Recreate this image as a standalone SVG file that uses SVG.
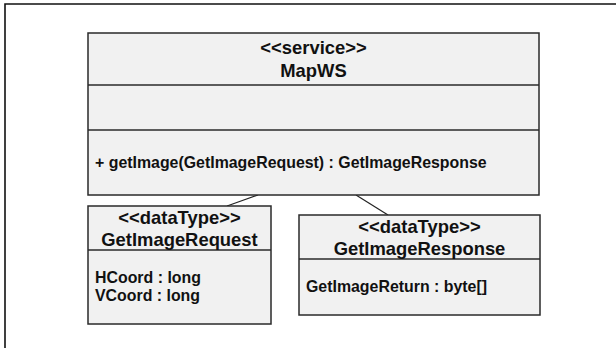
<svg xmlns="http://www.w3.org/2000/svg" width="616" height="348" viewBox="0 0 616 348">
<style>
.box{fill:#f1f1f1;stroke:#2a2a2a;stroke-width:1.5}
.div{stroke:#2a2a2a;stroke-width:1.5}
.frame{stroke:#111;stroke-width:1.6;fill:none}
.conn{stroke:#222;stroke-width:1.2;fill:none}
.h{font-family:"Liberation Sans",Arial,Helvetica,sans-serif;font-weight:bold;font-size:18.4px;fill:#111;text-anchor:middle}
.b{font-family:"Liberation Sans",Arial,Helvetica,sans-serif;font-weight:bold;font-size:15.9px;fill:#111}
</style>
<rect width="616" height="348" fill="#ffffff"/>
<g id="frame">
<path class="frame" d="M5,348 V4 H616"/>
</g>
<g id="connectors">
<line class="conn" x1="258" y1="195" x2="227" y2="206"/>
<line class="conn" x1="356" y1="195" x2="388" y2="215"/>
</g>
<g id="MapWS">
<rect class="box" x="88" y="33" width="451" height="162"/>
<line class="div" x1="88" y1="85" x2="539" y2="85"/>
<line class="div" x1="88" y1="130" x2="539" y2="130"/>
<text class="h" x="313.5" y="54">&lt;&lt;service&gt;&gt;</text>
<text class="h" x="313.5" y="77">MapWS</text>
<text class="b" x="95" y="168">+ getImage(GetImageRequest) : GetImageResponse</text>
</g>
<g id="GetImageRequest">
<rect class="box" x="88" y="206" width="183" height="118"/>
<line class="div" x1="88" y1="250" x2="271" y2="250"/>
<text class="h" x="179.5" y="224">&lt;&lt;dataType&gt;&gt;</text>
<text class="h" x="179.5" y="246">GetImageRequest</text>
<text class="b" x="95" y="283">HCoord : long</text>
<text class="b" x="95" y="301">VCoord : long</text>
</g>
<g id="GetImageResponse">
<rect class="box" x="299" y="215" width="241" height="100"/>
<line class="div" x1="299" y1="259" x2="540" y2="259"/>
<text class="h" x="419.5" y="233">&lt;&lt;dataType&gt;&gt;</text>
<text class="h" x="419.5" y="255">GetImageResponse</text>
<text class="b" x="306" y="292">GetImageReturn : byte[]</text>
</g>
</svg>
